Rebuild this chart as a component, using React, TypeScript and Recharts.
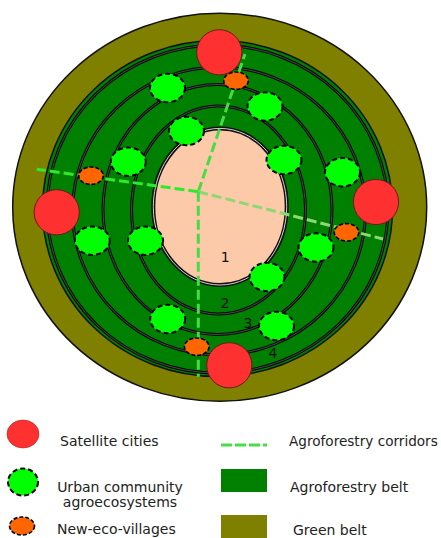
import React from 'react';
import { ScatterChart, Scatter, XAxis, YAxis } from 'recharts';

const WIDTH = 441;
const HEIGHT = 538;

// Belts and rings (centre x, centre y, radii in data units)
const greenBelt = [{ x: 219.7, y: 207.2, rx: 207, ry: 194 }];
const agroforestryBelt = [{ x: 217.5, y: 208.5, rx: 175, ry: 168 }];
const beltRings = [
  { x: 217.5, y: 209, rx: 170.5, ry: 164 },
  { x: 219, y: 211, rx: 146.5, ry: 144 },
  { x: 217.5, y: 209.5, rx: 114.5, ry: 125 },
  { x: 218.5, y: 210, rx: 87, ry: 104 },
];
const cityCore = [{ x: 220, y: 206.7, rx: 66.7, ry: 78.3 }];

// Agroforestry corridors: hub and end points
const corridorHub = { x: 198.3, y: 191.7 };
const corridorEnds = [
  { x: 245, y: 54 },
  { x: 36.7, y: 169.3 },
  { x: 383, y: 239 },
  { x: 198.3, y: 376.7 },
];

// Settlements
const satelliteCities = [
  { x: 219.3, y: 52.3 },
  { x: 56.7, y: 212.3 },
  { x: 376, y: 202 },
  { x: 229.3, y: 365.3 },
];
const urbanAgroecosystems = [
  { x: 167.5, y: 88 },
  { x: 265, y: 106.5 },
  { x: 186.5, y: 131 },
  { x: 128.3, y: 161.7 },
  { x: 284, y: 160 },
  { x: 342.5, y: 172.3 },
  { x: 92.3, y: 240.7 },
  { x: 145.5, y: 240.7 },
  { x: 316, y: 247.5 },
  { x: 267, y: 277 },
  { x: 167.7, y: 319 },
  { x: 276.5, y: 326 },
];
const ecoVillages = [
  { x: 236, y: 80.7 },
  { x: 91, y: 175.7 },
  { x: 346.5, y: 232.3 },
  { x: 196.7, y: 346.7 },
];

// Ring numbers
const ringLabels = [
  { x: 225.3, y: 256.7, text: '1' },
  { x: 225, y: 303, text: '2' },
  { x: 248, y: 323, text: '3' },
  { x: 273, y: 353, text: '4' },
];

// Legend
const legendLabels = [
  'Satellite cities',
  'Urban community|agroecosystems',
  'New-eco-villages',
  'Agroforestry corridors',
  'Agroforestry belt',
  'Green belt',
];
const legendKinds = ['city', 'urban', 'village', 'corridor', 'agro', 'green'];

// ----- styling / layout constants -----
const FONT = '"DejaVu Sans", sans-serif';
const C_OLIVE = '#808000';
const C_DGREEN = '#008000';
const C_LGREEN = '#00ff00';
const C_ORANGE = '#ff6600';
const C_RED = '#ff3030';
const C_PEACH = '#fccaa9';
const corridorColors = ['#47dc47', '#2dea2d', '#8ed874', '#47dc47'];
const CITY_R = 22.6;
const URBAN_RX = 17.5;
const URBAN_RY = 14.2;
const VILLAGE_RX = 12.3;
const VILLAGE_RY = 8.7;

const legendPos = [
  { x: 23, y: 434 },
  { x: 23, y: 482 },
  { x: 22, y: 526 },
  { x: 244, y: 445 },
  { x: 244, y: 480.5 },
  { x: 244, y: 526.5 },
];

const legendData = legendLabels.map((label, i) => ({
  ...legendPos[i],
  label,
  kind: legendKinds[i],
}));

const corridorData = corridorEnds.map((end) => [corridorHub, end]);

const beltShape = (fill: string, stroke: string, sw: number) => (props: any) => {
  const { cx, cy, payload } = props;
  return <ellipse cx={cx} cy={cy} rx={payload.rx} ry={payload.ry} fill={fill} stroke={stroke} strokeWidth={sw} />;
};

const ringShape = (props: any) => {
  const { cx, cy, payload } = props;
  return (
    <g>
      <ellipse cx={cx} cy={cy} rx={payload.rx} ry={payload.ry} fill="none" stroke="#0a0a0a" strokeWidth={3} />
      <ellipse cx={cx} cy={cy} rx={payload.rx} ry={payload.ry} fill="none" stroke="#707070" strokeWidth={0.6} />
    </g>
  );
};

const coreShape = (props: any) => {
  const { cx, cy, payload } = props;
  return (
    <g>
      <ellipse cx={cx} cy={cy} rx={payload.rx} ry={payload.ry} fill={C_PEACH} stroke="#111" strokeWidth={4} />
      <ellipse cx={cx} cy={cy} rx={payload.rx} ry={payload.ry} fill="none" stroke="#cfcfcf" strokeWidth={1} />
    </g>
  );
};

const cityShape = (props: any) => (
  <circle cx={props.cx} cy={props.cy} r={CITY_R} fill={C_RED} stroke="#6a1a1a" strokeWidth={1} />
);

const urbanShape = (props: any) => (
  <ellipse
    cx={props.cx}
    cy={props.cy}
    rx={URBAN_RX}
    ry={URBAN_RY}
    fill={C_LGREEN}
    stroke="#000"
    strokeWidth={2}
    strokeDasharray="5 3"
  />
);

const villageShape = (props: any) => (
  <ellipse
    cx={props.cx}
    cy={props.cy}
    rx={VILLAGE_RX}
    ry={VILLAGE_RY}
    fill={C_ORANGE}
    stroke="#000"
    strokeWidth={1.6}
    strokeDasharray="4 2"
  />
);

const labelShape = (props: any) => (
  <text x={props.cx} y={props.cy + 5} textAnchor="middle" fontFamily={FONT} fontSize={14} fill="#111">
    {props.payload.text}
  </text>
);

const emptyShape = () => <g />;

const legendShape = (props: any) => {
  const { cx, cy, payload } = props;
  const txt = (x: number, y: number, s: string, anchor: string = 'start', size: number = 14) => (
    <text x={x} y={y} fontFamily={FONT} fontSize={size} fill="#222" textAnchor={anchor as any}>
      {s}
    </text>
  );
  switch (payload.kind) {
    case 'city':
      return (
        <g>
          <ellipse cx={cx} cy={cy} rx={16} ry={14} fill={C_RED} stroke="#b02020" strokeWidth={0.6} />
          {txt(cx + 37, cy + 12, payload.label)}
        </g>
      );
    case 'urban': {
      const [a, b] = payload.label.split('|');
      return (
        <g>
          <ellipse cx={cx} cy={cy} rx={15} ry={13.5} fill={C_LGREEN} stroke="#000" strokeWidth={2} strokeDasharray="5 3" />
          {txt(cx + 97, cy + 10, a, 'middle')}
          {txt(cx + 97, cy + 25, b, 'middle')}
        </g>
      );
    }
    case 'village':
      return (
        <g>
          <ellipse cx={cx} cy={cy} rx={12.5} ry={9} fill={C_ORANGE} stroke="#000" strokeWidth={1.6} strokeDasharray="4 2" />
          {txt(cx + 35, cy + 8, payload.label)}
        </g>
      );
    case 'corridor':
      return (
        <g>
          <line x1={cx - 23} y1={cy} x2={cx + 23} y2={cy} stroke="#44e044" strokeWidth={3} strokeDasharray="11 3" />
          {txt(cx + 45, cy + 1, payload.label, 'start', 13.6)}
        </g>
      );
    case 'agro':
      return (
        <g>
          <rect x={cx - 23} y={cy - 11.5} width={46} height={23} fill={C_DGREEN} />
          {txt(cx + 46, cy + 11.5, payload.label)}
        </g>
      );
    default:
      return (
        <g>
          <rect x={cx - 23} y={cy - 11.5} width={46} height={23} fill={C_OLIVE} />
          {txt(cx + 49, cy + 8.5, payload.label)}
        </g>
      );
  }
};

export default function App() {
  return (
    <div style={{ position: 'absolute', left: 0, top: 0, width: WIDTH, height: HEIGHT, background: '#fff' }}>
      <ScatterChart width={WIDTH} height={HEIGHT} margin={{ top: 0, right: 0, bottom: 0, left: 0 }}>
        <XAxis type="number" dataKey="x" domain={[0, WIDTH]} hide allowDataOverflow />
        <YAxis type="number" dataKey="y" domain={[0, HEIGHT]} reversed hide allowDataOverflow />
        <Scatter data={greenBelt} shape={beltShape(C_OLIVE, '#111', 1.5)} isAnimationActive={false} />
        <Scatter data={agroforestryBelt} shape={beltShape(C_DGREEN, '#111', 1.5)} isAnimationActive={false} />
        <Scatter data={beltRings} shape={ringShape} isAnimationActive={false} />
        <Scatter data={cityCore} shape={coreShape} isAnimationActive={false} />
        {corridorData.map((d, i) => (
          <Scatter
            key={'corr' + i}
            data={d}
            fill="none"
            shape={emptyShape}
            line={{ stroke: corridorColors[i], strokeWidth: 3, strokeDasharray: '10 4' }}
            lineType="joint"
            isAnimationActive={false}
          />
        ))}
        <Scatter data={urbanAgroecosystems} shape={urbanShape} isAnimationActive={false} />
        <Scatter data={ecoVillages} shape={villageShape} isAnimationActive={false} />
        <Scatter data={satelliteCities} shape={cityShape} isAnimationActive={false} />
        <Scatter data={ringLabels} shape={labelShape} isAnimationActive={false} />
        <Scatter data={legendData} shape={legendShape} isAnimationActive={false} />
      </ScatterChart>
    </div>
  );
}
